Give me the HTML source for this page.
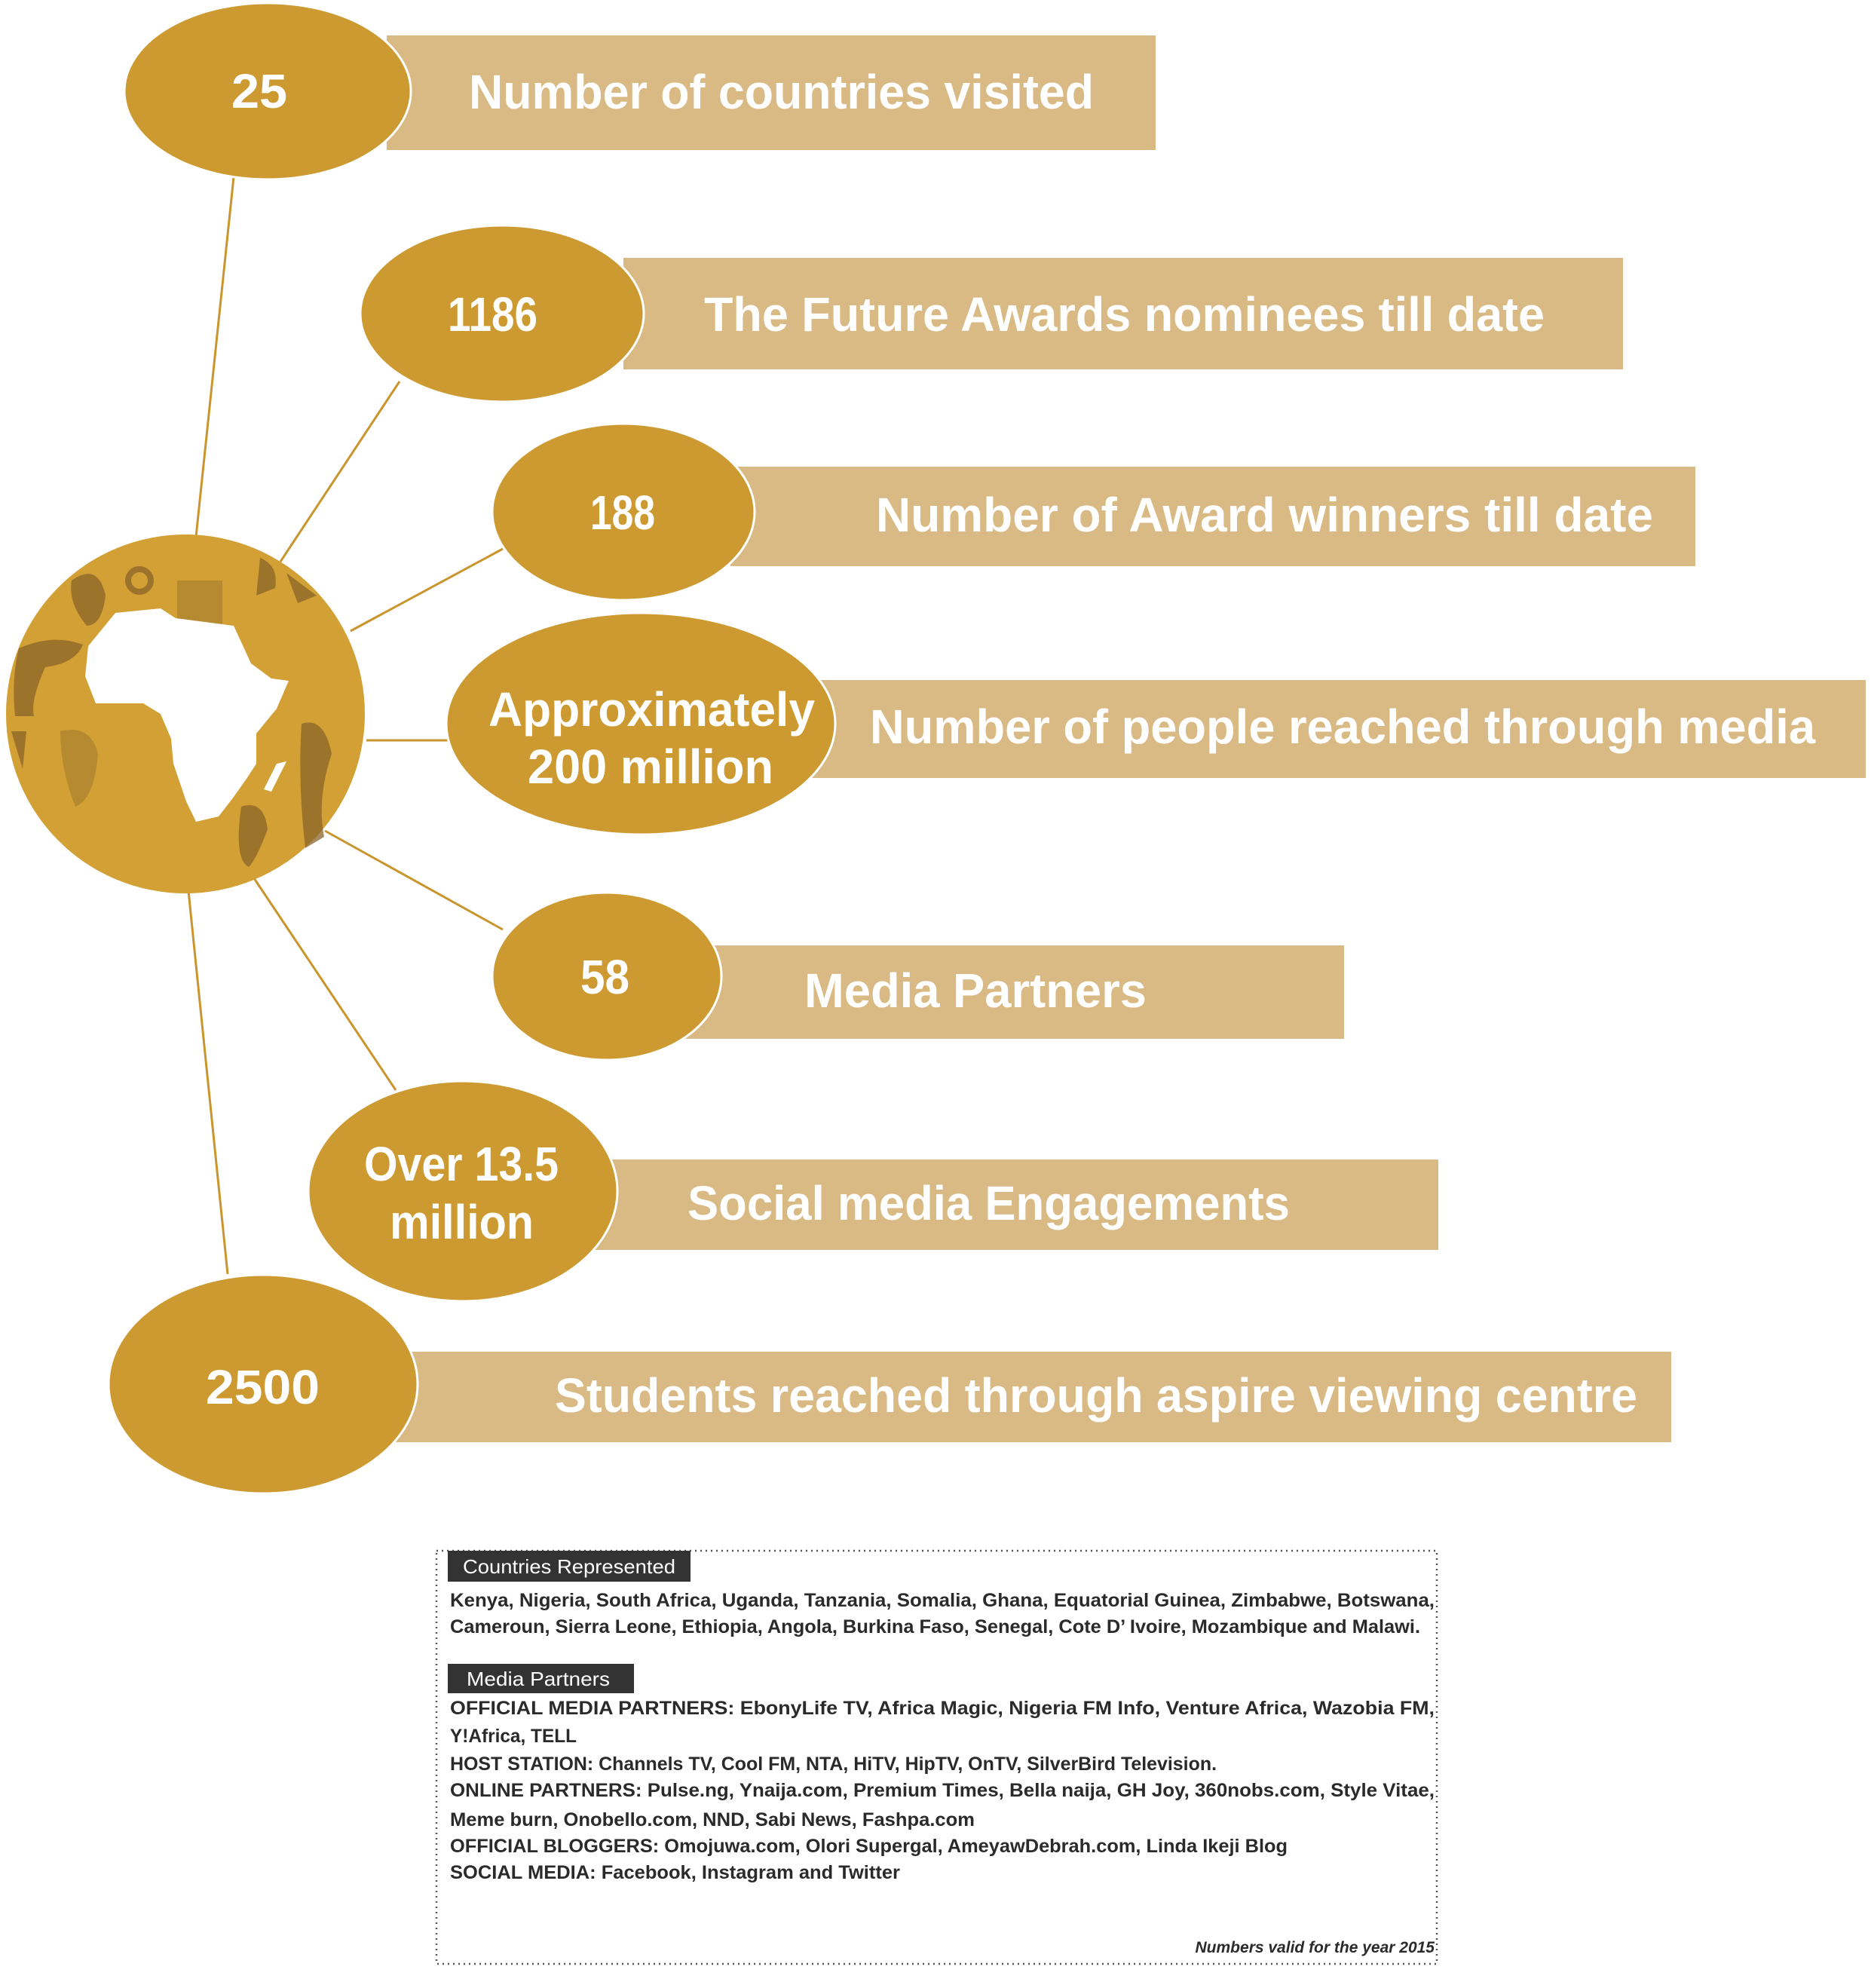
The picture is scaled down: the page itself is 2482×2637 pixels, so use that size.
<!DOCTYPE html>
<html><head><meta charset="utf-8"><style>
html,body{margin:0;padding:0;background:#fff;}
svg{display:block;}
.t{font-family:"Liberation Sans",sans-serif;font-weight:bold;fill:#fff;}
.b{font-family:"Liberation Sans",sans-serif;font-weight:bold;fill:#2a2a2a;font-size:25px;}
</style></head><body>
<svg width="2482" height="2637" viewBox="0 0 2482 2637" xmlns="http://www.w3.org/2000/svg">
<g stroke="#c9962e" stroke-width="3">
<line x1="310" y1="235" x2="260" y2="712"/>
<line x1="530" y1="506" x2="372" y2="745"/>
<line x1="667" y1="728" x2="465" y2="837"/>
<line x1="486" y1="982" x2="595" y2="982"/>
<line x1="431" y1="1102" x2="667" y2="1233"/>
<line x1="335" y1="1162" x2="525" y2="1446"/>
<line x1="250" y1="1182" x2="302" y2="1690"/>
</g>
<!-- bars -->
<g fill="#d9ba84">
<rect x="513" y="47" width="1020" height="152"/>
<rect x="827" y="342" width="1326" height="148"/>
<rect x="969" y="619" width="1280" height="132"/>
<rect x="1073" y="902" width="1402" height="130"/>
<rect x="906" y="1254" width="877" height="124"/>
<rect x="788" y="1538" width="1120" height="120"/>
<rect x="525" y="1793" width="1692" height="120"/>
</g>
<g fill="#cd9a31" stroke="#fff" stroke-width="3">
<ellipse cx="355" cy="121" rx="190" ry="117"/>
<ellipse cx="666" cy="416" rx="188" ry="117"/>
<ellipse cx="827" cy="679" rx="174" ry="117"/>
<ellipse cx="850" cy="960" rx="258" ry="147"/>
<ellipse cx="805" cy="1295" rx="152" ry="111"/>
<ellipse cx="614" cy="1580" rx="205" ry="146"/>
<ellipse cx="349" cy="1836" rx="205" ry="145"/>
</g>
<!-- globe -->
<circle cx="246" cy="947" r="238" fill="#d2a035"/>
<g fill="#8a6528" opacity="0.75">
<path d="M95 770 Q130 745 140 790 Q135 830 115 830 Q90 800 95 770Z"/>
<path d="M25 860 Q70 840 110 855 Q100 880 60 885 Q40 930 45 950 L20 950 Q15 900 25 860Z"/>
<circle cx="185" cy="770" r="15" fill="none" stroke="#8a6528" stroke-width="8"/>
<rect x="235" y="770" width="60" height="60" opacity="0.5"/>
<path d="M345 740 Q370 750 365 780 L340 790 Z"/>
<path d="M380 760 L420 790 L395 800 Z"/>
<path d="M400 960 Q430 950 440 1000 Q420 1060 430 1110 L405 1125 Q395 1040 400 960Z"/>
<path d="M320 1070 Q350 1060 355 1100 Q340 1140 330 1150 Q310 1140 320 1070Z"/>
<path d="M80 970 Q120 960 130 1000 Q125 1060 100 1070 Q80 1020 80 970Z" opacity="0.5"/>
<path d="M15 970 L35 970 L30 1020 Z"/>
</g>
<g fill="#fff">
<path d="M117 857 L153 813 L213 807 L233 820 L310 830 L333 880 L360 900 L383 903 L367 940 L340 973 L340 1013 L327 1033 L310 1057 L290 1083 L260 1090 L247 1063 L230 1013 L227 980 L213 947 L190 933 L157 933 L127 933 L113 897 Z"/>
<path d="M367 1013 L380 1010 L360 1050 L350 1047 Z"/>
</g>
<!-- number texts -->
<g class="t" font-size="64">
<text x="307" y="143" textLength="74" lengthAdjust="spacingAndGlyphs">25</text>
<text x="594" y="439" textLength="119" lengthAdjust="spacingAndGlyphs">1186</text>
<text x="783" y="702" textLength="86" lengthAdjust="spacingAndGlyphs">188</text>
<text x="648" y="963" textLength="433" lengthAdjust="spacingAndGlyphs">Approximately</text>
<text x="700" y="1039" textLength="326" lengthAdjust="spacingAndGlyphs">200 million</text>
<text x="770" y="1318" textLength="65" lengthAdjust="spacingAndGlyphs">58</text>
<text x="483" y="1566" textLength="258" lengthAdjust="spacingAndGlyphs">Over 13.5</text>
<text x="517" y="1643" textLength="191" lengthAdjust="spacingAndGlyphs">million</text>
<text x="273" y="1862" textLength="151" lengthAdjust="spacingAndGlyphs">2500</text>
</g>
<g class="t" font-size="64">
<text x="622" y="144" textLength="829" lengthAdjust="spacingAndGlyphs">Number of countries visited</text>
<text x="934" y="439" textLength="1115" lengthAdjust="spacingAndGlyphs">The Future Awards nominees till date</text>
<text x="1162" y="705" textLength="1031" lengthAdjust="spacingAndGlyphs">Number of Award winners till date</text>
<text x="1154" y="986" textLength="1254" lengthAdjust="spacingAndGlyphs">Number of people reached through media</text>
<text x="1067" y="1336" textLength="454" lengthAdjust="spacingAndGlyphs">Media Partners</text>
<text x="912" y="1618" textLength="799" lengthAdjust="spacingAndGlyphs">Social media Engagements</text>
<text x="736" y="1873" textLength="1436" lengthAdjust="spacingAndGlyphs">Students reached through aspire viewing centre</text>
</g>
<!-- info box -->
<rect x="579" y="2057" width="1327" height="548" fill="none" stroke="#555" stroke-width="2.5" stroke-dasharray="2,5"/>
<rect x="594" y="2057" width="322" height="41" fill="#333"/>
<text x="614" y="2087" font-family="Liberation Sans,sans-serif" font-size="26" fill="#fff" textLength="282" lengthAdjust="spacingAndGlyphs">Countries Represented</text>
<text class="b" x="597" y="2131" textLength="1306" lengthAdjust="spacingAndGlyphs">Kenya, Nigeria, South Africa, Uganda, Tanzania, Somalia, Ghana, Equatorial Guinea, Zimbabwe, Botswana,</text>
<text class="b" x="597" y="2166" textLength="1287" lengthAdjust="spacingAndGlyphs">Cameroun, Sierra Leone, Ethiopia, Angola, Burkina Faso, Senegal, Cote D’ Ivoire, Mozambique and Malawi.</text>
<rect x="594" y="2207" width="247" height="39" fill="#333"/>
<text x="619" y="2236" font-family="Liberation Sans,sans-serif" font-size="26" fill="#fff" textLength="190" lengthAdjust="spacingAndGlyphs">Media Partners</text>
<text class="b" x="597" y="2274" textLength="1306" lengthAdjust="spacingAndGlyphs">OFFICIAL MEDIA PARTNERS: EbonyLife TV,   Africa Magic, Nigeria FM Info,   Venture Africa,   Wazobia FM,</text>
<text class="b" x="597" y="2311" textLength="168" lengthAdjust="spacingAndGlyphs">Y!Africa, TELL</text>
<text class="b" x="597" y="2348" textLength="1017" lengthAdjust="spacingAndGlyphs">HOST STATION: Channels TV, Cool FM, NTA, HiTV, HipTV, OnTV, SilverBird Television.</text>
<text class="b" x="597" y="2383" textLength="1306" lengthAdjust="spacingAndGlyphs">ONLINE PARTNERS: Pulse.ng,   Ynaija.com, Premium Times, Bella naija, GH Joy,   360nobs.com, Style Vitae,</text>
<text class="b" x="597" y="2422" textLength="696" lengthAdjust="spacingAndGlyphs">Meme burn, Onobello.com, NND, Sabi News, Fashpa.com</text>
<text class="b" x="597" y="2457" textLength="1111" lengthAdjust="spacingAndGlyphs">OFFICIAL BLOGGERS:  Omojuwa.com, Olori Supergal, AmeyawDebrah.com, Linda Ikeji Blog</text>
<text class="b" x="597" y="2492" textLength="597" lengthAdjust="spacingAndGlyphs">SOCIAL MEDIA: Facebook, Instagram and Twitter</text>
<text x="1903" y="2590" text-anchor="end" font-family="Liberation Sans,sans-serif" font-style="italic" font-weight="bold" font-size="21" fill="#2a2a2a">Numbers valid for the year 2015</text>
</svg>
</body></html>
